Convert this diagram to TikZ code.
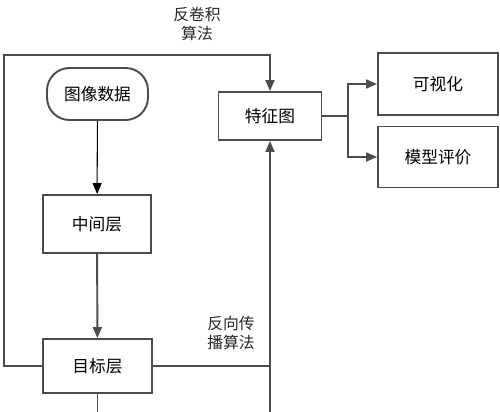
\documentclass[tikz,border=0pt]{standalone}
\usepackage{fontspec}
\setmainfont{Noto Sans CJK SC}
\usetikzlibrary{arrows.meta}

\begin{document}
\begin{tikzpicture}[line width=1.1pt, draw=black!70, >={Triangle[length=0.22cm,width=0.18cm]},
    main/.style = {draw, font=\fontsize{9.5}{12}\selectfont},
    lbl/.style = {align=center, font=\fontsize{9}{11}\selectfont, text=black!85}]
\useasboundingbox (0,0) rectangle (10,8.24);
    \node[main, rounded corners=0.45cm, minimum width=2.02cm, minimum height=1.04cm] (data) at (1.95,6.36) {图像数据};
    \node[main, minimum width=2.16cm, minimum height=1.16cm] (mid) at (1.94,3.76) {中间层};
    \node[main, minimum width=2.18cm, minimum height=1.08cm] (target) at (1.95,0.92) {目标层};
    \node[main, minimum width=2.06cm, minimum height=0.96cm] (feat) at (5.4,5.92) {特征图};
    \node[main, minimum width=2.4cm, minimum height=1.24cm] (vis) at (8.76,6.56) {可视化};
    \node[main, minimum width=2.4cm, minimum height=1.22cm] (eval) at (8.76,5.1) {模型评价};

    \coordinate (tl) at (0.08,7.14);
    \coordinate (br) at (6.96,5.92);
    \coordinate (b1) at (1.95,0);
    \coordinate (b2) at (5.4,0);

\draw[->, line width=0.6pt, draw=black] (data) -- (mid);
\draw[->] (mid) -- (target);
\draw[->] (target.west) -| (tl) -| (feat.north);
\draw (target.south) -- (b1);
\draw (target.east) -- (target.east -| b2);
\draw[->] (b2) -- (feat.south);
\draw (feat.east) -- (br);
\draw[->] (br) |- (vis.west);
\draw[->] (br) |- (eval.west);

    \node[lbl] (deconv) at (3.94,7.76) {反卷积\\算法};
    \node[lbl] (backprop) at (4.62,1.58) {反向传\\播算法};
\end{tikzpicture}
\end{document}
